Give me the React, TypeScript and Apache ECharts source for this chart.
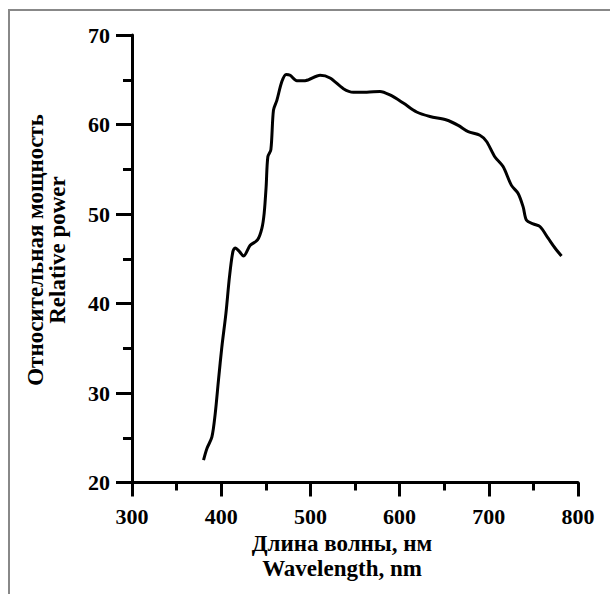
import React, { useEffect, useRef } from "react";
import * as echarts from "echarts";

const wavelength = [
  380.2, 384, 389.6, 393.3, 397, 400.8, 405.3, 409.3, 413.1, 415.7, 420.5, 425, 432.5, 440.7,
  445.6, 448.2, 450.4, 452.3, 455.7, 458.6, 462.4, 468, 472.8, 477.3, 484.8, 494, 510.9, 522,
  537, 548.2, 563.2, 578, 589.2, 604.1, 619.1, 634, 652.7, 665.7, 676.9, 690, 697.5, 706.7,
  716, 725.4, 732.9, 738.5, 742.3, 749.7, 757.3, 766.5, 774.2, 781.5,
];
const power = [
  22.5, 23.8, 25.1, 27.7, 31.5, 35.2, 38.9, 43.0, 45.8, 46.2, 45.8, 45.3, 46.5, 47.1,
  48.4, 50.1, 53.1, 56.4, 57.2, 61.6, 62.7, 64.8, 65.6, 65.5, 64.9, 64.9, 65.5, 65.2,
  64.0, 63.6, 63.6, 63.7, 63.3, 62.4, 61.4, 60.9, 60.5, 59.9, 59.2, 58.8, 58.1, 56.4,
  55.3, 53.2, 52.3, 50.8, 49.3, 48.9, 48.6, 47.3, 46.2, 45.3,
];
const xTitle = ["Длина волны, нм", "Wavelength, nm"];
const yTitle = ["Относительная мощность", "Relative power"];

const FONT = "'Liberation Serif', 'Times New Roman', serif";

export default function App() {
  const ref = useRef<HTMLDivElement>(null);
  useEffect(() => {
    if (!ref.current) return;
    const chart = echarts.init(ref.current, undefined, { renderer: "svg" });
    const data = wavelength.map((w, i) => [w, power[i]]);
    const axisLine = { show: true, onZero: false, lineStyle: { color: "#000", width: 3 } };
    const titleStyle = (text: string) => ({
      text,
      fill: "#000",
      font: `bold 23px ${FONT}`,
      textAlign: "center",
      textVerticalAlign: "middle",
    });
    chart.setOption({
      animation: false,
      backgroundColor: "#fff",
      grid: { left: 132, top: 35, right: 32, bottom: 111.5, containLabel: false },
      xAxis: {
        type: "value",
        min: 300,
        max: 800,
        interval: 100,
        axisLine,
        axisTick: { show: true, length: 14, lineStyle: { color: "#000", width: 3 } },
        minorTick: { show: true, splitNumber: 2, length: 8, lineStyle: { color: "#000", width: 3 } },
        splitLine: { show: false },
        axisLabel: { margin: 23, color: "#000", fontFamily: FONT, fontWeight: "bold", fontSize: 22 },
      },
      yAxis: {
        type: "value",
        min: 20,
        max: 70,
        interval: 10,
        axisLine,
        axisTick: { show: true, length: 16, lineStyle: { color: "#000", width: 3 } },
        minorTick: { show: true, splitNumber: 2, length: 9, lineStyle: { color: "#000", width: 3 } },
        splitLine: { show: false },
        axisLabel: { margin: 22, color: "#000", fontFamily: FONT, fontWeight: "bold", fontSize: 22 },
      },
      series: [
        {
          type: "line",
          data,
          smooth: 0.3,
          showSymbol: false,
          lineStyle: { color: "#000", width: 3 },
        },
      ],
      graphic: [
        { type: "line", shape: { x1: 8, y1: 10, x2: 610, y2: 10 }, style: { stroke: "#888", lineWidth: 2 } },
        { type: "line", shape: { x1: 9, y1: 10, x2: 9, y2: 594 }, style: { stroke: "#888", lineWidth: 2 } },
        { type: "text", x: 342, y: 543, style: titleStyle(xTitle[0]) },
        { type: "text", x: 342, y: 568, style: titleStyle(xTitle[1]) },
        { type: "text", x: 35, y: 250, rotation: Math.PI / 2, style: titleStyle(yTitle[0]) },
        { type: "text", x: 57, y: 250, rotation: Math.PI / 2, style: titleStyle(yTitle[1]) },
      ],
    });
    return () => chart.dispose();
  }, []);
  return (
    <div
      ref={ref}
      style={{ position: "absolute", left: 0, top: 0, width: 610, height: 594, background: "#fff" }}
    />
  );
}
